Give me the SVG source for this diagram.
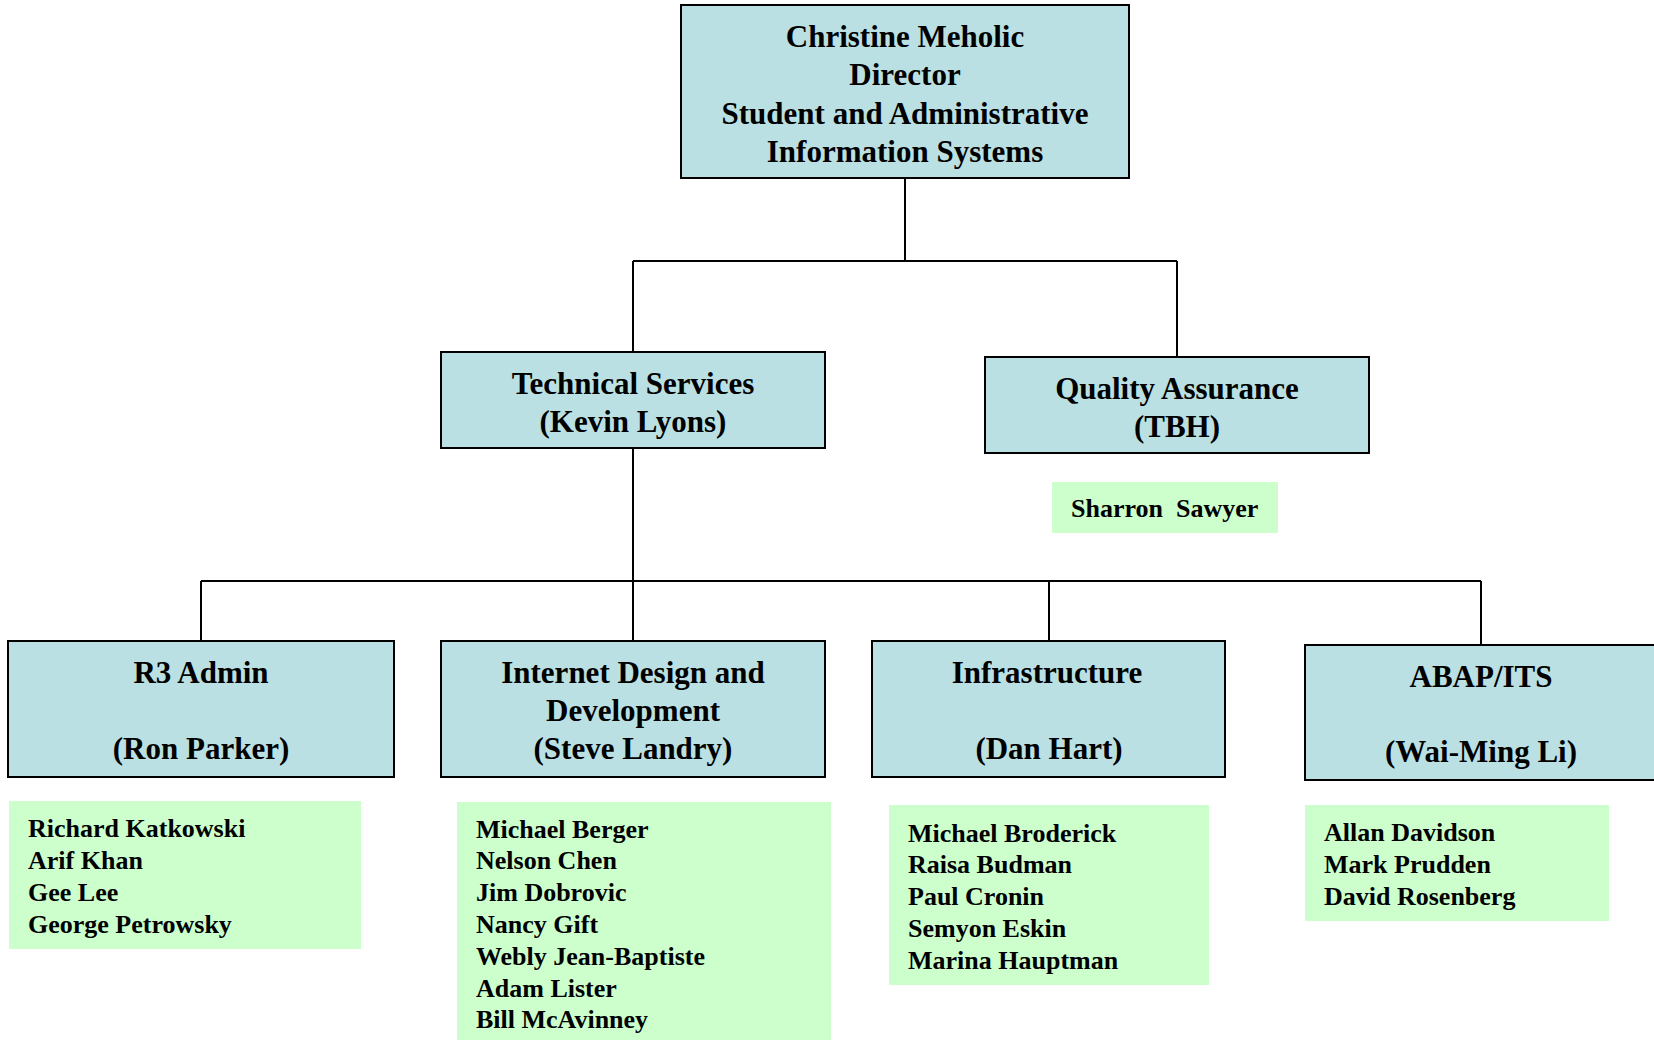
<svg xmlns="http://www.w3.org/2000/svg" width="1654" height="1040" viewBox="0 0 1654 1040">
<style>
.box{fill:#BBE0E3;stroke:#000;stroke-width:2}
.list{fill:#CCFFCC;stroke:none}
.t{font-family:"Liberation Serif","Times New Roman",serif;font-weight:bold;font-size:31px;fill:#000;text-anchor:middle}
.n{font-family:"Liberation Serif","Times New Roman",serif;font-weight:bold;font-size:26px;fill:#000}
.c{fill:none;stroke:#000;stroke-width:2}
</style>
<rect width="1654" height="1040" fill="#fff"/>
<g id="connectors">
<path class="c" d="M905 178 V261 M633 261 H1177 M633 261 V352 M1177 261 V357"/>
<path class="c" d="M633 448 V641 M201 581 H1481 M201 581 V641 M1049 581 V641 M1481 581 V645"/>
</g>
<g id="director">
<rect class="box" x="681" y="5" width="448" height="173"/>
<text class="t" x="905" y="47">Christine Meholic</text>
<text class="t" x="905" y="85">Director</text>
<text class="t" x="905" y="124">Student and Administrative</text>
<text class="t" x="905" y="162">Information Systems</text>
</g>
<g id="technical">
<rect class="box" x="441" y="352" width="384" height="96"/>
<text class="t" x="633" y="394">Technical Services</text>
<text class="t" x="633" y="432">(Kevin Lyons)</text>
</g>
<g id="qa">
<rect class="box" x="985" y="357" width="384" height="96"/>
<text class="t" x="1177" y="399">Quality Assurance</text>
<text class="t" x="1177" y="437">(TBH)</text>
</g>
<g id="qa-staff">
<rect class="list" x="1052" y="482" width="226" height="51"/>
<text class="n" x="1071" y="517" xml:space="preserve">Sharron  Sawyer</text>
</g>
<g id="r3">
<rect class="box" x="8" y="641" width="386" height="136"/>
<text class="t" x="201" y="683">R3 Admin</text>
<text class="t" x="201" y="759">(Ron Parker)</text>
</g>
<g id="r3-staff">
<rect class="list" x="9" y="801" width="352" height="148"/>
<text class="n" x="28" y="837">Richard Katkowski</text>
<text class="n" x="28" y="869">Arif Khan</text>
<text class="n" x="28" y="901">Gee Lee</text>
<text class="n" x="28" y="933">George Petrowsky</text>
</g>
<g id="internet">
<rect class="box" x="441" y="641" width="384" height="136"/>
<text class="t" x="633" y="683">Internet Design and</text>
<text class="t" x="633" y="721">Development</text>
<text class="t" x="633" y="759">(Steve Landry)</text>
</g>
<g id="internet-staff">
<rect class="list" x="457" y="802" width="374" height="238"/>
<text class="n" x="476" y="838">Michael Berger</text>
<text class="n" x="476" y="869">Nelson Chen</text>
<text class="n" x="476" y="901">Jim Dobrovic</text>
<text class="n" x="476" y="933">Nancy Gift</text>
<text class="n" x="476" y="965">Webly Jean-Baptiste</text>
<text class="n" x="476" y="997">Adam Lister</text>
<text class="n" x="476" y="1028">Bill McAvinney</text>
</g>
<g id="infrastructure">
<rect class="box" x="872" y="641" width="353" height="136"/>
<text class="t" x="1047" y="683">Infrastructure</text>
<text class="t" x="1049" y="759">(Dan Hart)</text>
</g>
<g id="infrastructure-staff">
<rect class="list" x="889" y="805" width="320" height="180"/>
<text class="n" x="908" y="842">Michael Broderick</text>
<text class="n" x="908" y="873">Raisa Budman</text>
<text class="n" x="908" y="905">Paul Cronin</text>
<text class="n" x="908" y="937">Semyon Eskin</text>
<text class="n" x="908" y="969">Marina Hauptman</text>
</g>
<g id="abap">
<rect class="box" x="1305" y="645" width="352" height="135"/>
<text class="t" x="1481" y="687">ABAP/ITS</text>
<text class="t" x="1481" y="762">(Wai-Ming Li)</text>
</g>
<g id="abap-staff">
<rect class="list" x="1305" y="805" width="304" height="116"/>
<text class="n" x="1324" y="841">Allan Davidson</text>
<text class="n" x="1324" y="873">Mark Prudden</text>
<text class="n" x="1324" y="905">David Rosenberg</text>
</g>
</svg>
